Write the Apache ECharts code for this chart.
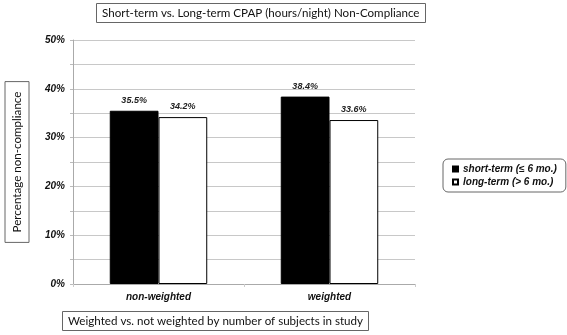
<!DOCTYPE html>
<html>
<head>
<meta charset="utf-8">
<script src="https://cdn.jsdelivr.net/npm/echarts@6/dist/echarts.min.js"></script>
<style>
  html, body { margin: 0; padding: 0; background: #fff; }
  #chart { width: 567px; height: 335px; }
</style>
</head>
<body>
<div id="chart"></div>
<script>
var categories = ['non-weighted', 'weighted'];
var shortTerm = [35.5, 38.4];
var longTerm = [34.2, 33.6];
var seriesNames = ['short-term (≤ 6 mo.)', 'long-term (> 6 mo.)'];
var yTicks = [0, 10, 20, 30, 40, 50];

var chart = echarts.init(document.getElementById('chart'));

var boxText = {
    fontFamily: 'Lato',
    fontSize: 11.6,
    fontWeight: 'normal',
    color: '#111'
};

var valueLabel = {
    show: true,
    position: 'top',
    distance: 6,
    fontFamily: 'Liberation Sans',
    fontSize: 9,
    fontWeight: 'bold',
    fontStyle: 'italic',
    color: '#222',
    formatter: function (p) { return p.value.toFixed(1) + '%'; }
};

var option = {
    animation: false,
    title: [
        {
            text: 'Short-term vs. Long-term CPAP (hours/night) Non-Compliance',
            left: 96,
            top: 3,
            padding: [4, 6, 4, 6],
            borderColor: '#666',
            borderWidth: 1,
            textStyle: boxText
        },
        {
            text: 'Weighted vs. not weighted by number of subjects in study',
            left: 62,
            top: 311,
            padding: [4, 6, 4, 6],
            borderColor: '#666',
            borderWidth: 1,
            textStyle: boxText
        }
    ],
    legend: {
        orient: 'vertical',
        left: 443,
        top: 159,
        padding: [5, 9, 5, 9],
        itemGap: 3,
        itemWidth: 5,
        itemHeight: 5,
        borderColor: '#666',
        borderWidth: 1,
        borderRadius: 5,
        icon: 'rect',
        textStyle: {
            fontFamily: 'Liberation Sans',
            fontSize: 10,
            fontWeight: 'bold',
            fontStyle: 'italic',
            color: '#111'
        },
        data: seriesNames
    },
    grid: { left: 73, right: 152, top: 40, bottom: 51, outerBoundsMode: 'none' },
    xAxis: {
        type: 'category',
        data: categories,
        axisLine: { lineStyle: { color: '#aaa' } },
        axisTick: { show: true, length: 3, lineStyle: { color: '#ccc' } },
        axisLabel: {
            margin: 8,
            fontFamily: 'Liberation Sans',
            fontSize: 10,
            fontWeight: 'bold',
            fontStyle: 'italic',
            color: '#111'
        }
    },
    yAxis: {
        type: 'value',
        min: 0,
        max: 50,
        interval: 5,
        name: 'Percentage non-compliance',
        nameLocation: 'middle',
        nameGap: 44,
        nameRotate: 90,
        nameTextStyle: {
            fontFamily: 'Lato',
            fontSize: 11.6,
            color: '#111',
            borderColor: '#666',
            borderWidth: 1,
            padding: [6, 10, 6, 10]
        },
        axisLine: { show: true, lineStyle: { color: '#aaa' } },
        axisTick: { show: true, length: 3, lineStyle: { color: '#bbb' } },
        splitLine: { lineStyle: { color: '#c8c8c8' } },
        axisLabel: {
            margin: 8,
            fontFamily: 'Liberation Sans',
            fontSize: 10,
            fontWeight: 'bold',
            fontStyle: 'italic',
            color: '#111',
            formatter: function (v) {
                return yTicks.indexOf(v) >= 0 ? v + '%' : '';
            }
        }
    },
    series: [
        {
            name: seriesNames[0],
            type: 'bar',
            data: shortTerm,
            barGap: '0%',
            barCategoryGap: '43%',
            itemStyle: { color: '#000', borderColor: '#000', borderWidth: 1 },
            label: valueLabel
        },
        {
            name: seriesNames[1],
            type: 'bar',
            data: longTerm,
            itemStyle: { color: '#fff', borderColor: '#000', borderWidth: 1 },
            label: valueLabel
        }
    ]
};

chart.setOption(option);
</script>
</body>
</html>
